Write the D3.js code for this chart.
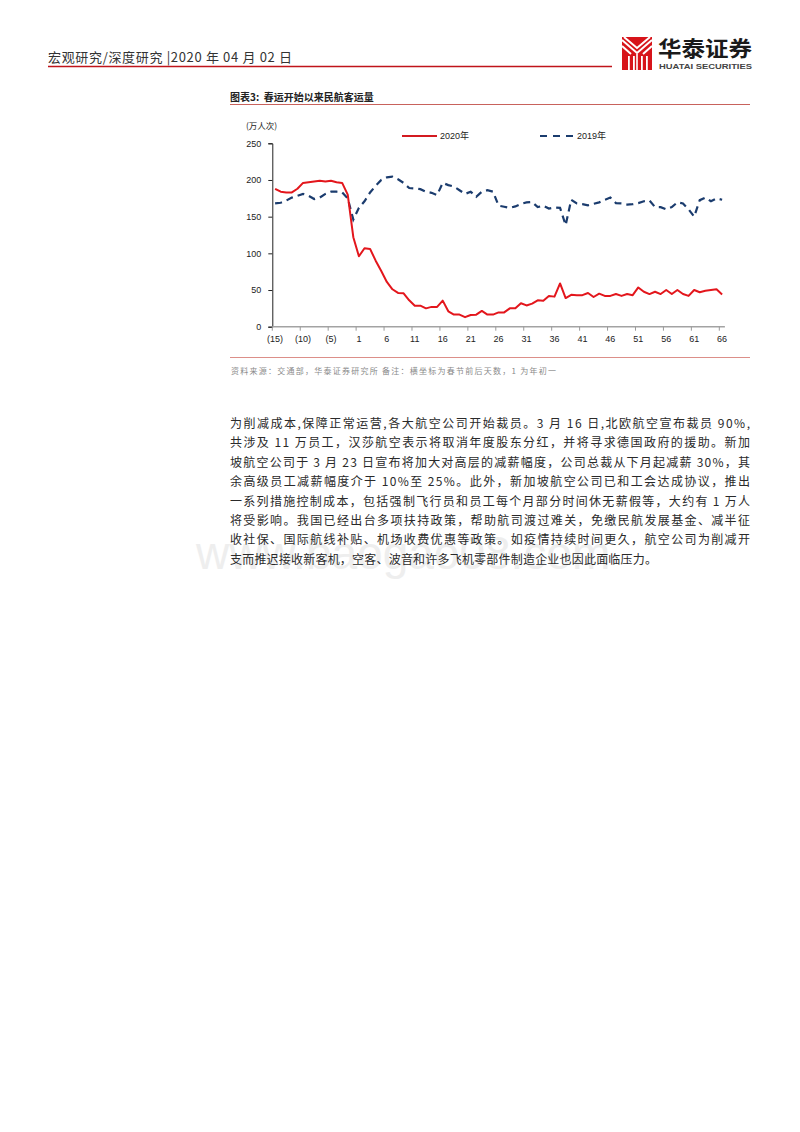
<!DOCTYPE html>
<html>
<head>
<meta charset="utf-8">
<script src="https://cdn.jsdelivr.net/npm/d3@7"></script>
<style>
  html, body { margin: 0; padding: 0; background: #fff; }
  svg { display: block; }
</style>
</head>
<body>
<div id="chart"></div>
<script>
// ---------------- DATA ----------------
const categories = ["(15)","(14)","(13)","(12)","(11)","(10)","(9)","(8)","(7)","(6)","(5)","(4)","(3)","(2)","(1)",
  "1","2","3","4","5","6","7","8","9","10","11","12","13","14","15","16","17","18","19","20",
  "21","22","23","24","25","26","27","28","29","30","31","32","33","34","35","36","37","38","39","40",
  "41","42","43","44","45","46","47","48","49","50","51","52","53","54","55","56","57","58","59","60",
  "61","62","63","64","65","66"];

const tickLabels = ["(15)","(10)","(5)","1","6","11","16","21","26","31","36","41","46","51","56","61","66"];

const series2020 = [188,184,183,183,188,196,197,198,199,198,199,197,196,180,122,
  96,107,106,90,76,61,51,46,45.5,36,28.6,28.6,25,27,27,35.5,21,16.5,16.5,13,
  16,16.4,21.5,16.5,16.5,19.5,19.5,25,25,32,29,31.5,36,35.5,42,41,59,39,43.5,43,
  43,46,40.5,45,42,42,44.5,42,44.5,43,53.5,47.7,44.5,47.7,44.5,50,44.5,50,44.5,42,
  50,47,49,50,51,44];

const series2019 = [168,169,172,176,178.5,181,178.5,174,176,181,184,184,183,175,146,
  162,171,183,192,200,203.5,204.5,201,196,189,188.5,187.5,184,182.5,179.5,196,193,191,186,181,
  184,177,184,186,184,165,163.5,162,164,167.5,169.5,170,163,165,161,162.5,162,138.5,173,168,
  167,165.5,167.5,169.5,173,176,168.5,168,166.5,167,168.5,171,172,163,163,160,163,169.5,168,160,
  150,172.5,176,171,175,173];

const yTicks = [0,50,100,150,200,250];
const seriesNames = ["2020年","2019年"];

const headerText = "宏观研究/深度研究 |2020 年 04 月 02 日";
const chartTitle = "图表3:  春运开始以来民航客运量";
const unitLabel = "(万人次)";
const sourceText = "资料来源：交通部，华泰证券研究所 备注：横坐标为春节前后天数，1 为年初一";
const bodyLines = [
  "为削减成本,保障正常运营,各大航空公司开始裁员。3 月 16 日,北欧航空宣布裁员 90%,",
  "共涉及 11 万员工，汉莎航空表示将取消年度股东分红，并将寻求德国政府的援助。新加",
  "坡航空公司于 3 月 23 日宣布将加大对高层的减薪幅度，公司总裁从下月起减薪 30%，其",
  "余高级员工减薪幅度介于 10%至 25%。此外，新加坡航空公司已和工会达成协议，推出",
  "一系列措施控制成本，包括强制飞行员和员工每个月部分时间休无薪假等，大约有 1 万人",
  "将受影响。我国已经出台多项扶持政策，帮助航司渡过难关，免缴民航发展基金、减半征",
  "收社保、国际航线补贴、机场收费优惠等政策。如疫情持续时间更久，航空公司为削减开",
  "支而推迟接收新客机，空客、波音和许多飞机零部件制造企业也因此面临压力。"
];

// ---------------- LAYOUT ----------------
const W = 800, H = 1132;
const svg = d3.select("#chart").append("svg").attr("width", W).attr("height", H);
svg.append("rect").attr("width", W).attr("height", H).attr("fill", "#fff");

const CJK = "'Noto Sans CJK SC', 'Liberation Sans', sans-serif";
const LAT = "'Liberation Sans', Arial, 'Noto Sans CJK SC', sans-serif";

// watermark
svg.append("text").attr("x", 196).attr("y", 569)
  .attr("font-family", LAT).attr("font-size", 46).attr("fill", "#eeeeee")
  .text("www.baogao08.com");

// header
svg.append("text").attr("x", 48).attr("y", 62)
  .attr("font-family", CJK).attr("font-size", 13).attr("fill", "#333")
  .attr("textLength", 244).attr("lengthAdjust", "spacing")
  .text(headerText);
svg.append("line").attr("x1", 48).attr("x2", 612).attr("y1", 66.5).attr("y2", 66.5)
  .attr("stroke", "#c0141b").attr("stroke-width", 1.5);

// logo icon
const logo = svg.append("g");
logo.append("rect").attr("x", 622).attr("y", 37).attr("width", 30).attr("height", 33).attr("fill", "#d7141a");
logo.append("path").attr("d", "M622,40 L637,53 L652,40 M624,37 L637,48 L650,37 M622,46 L631,54 M652,46 L643,54")
  .attr("stroke", "#fff").attr("stroke-width", 2).attr("fill", "none");
[628, 633, 641, 646].forEach(x => {
  logo.append("rect").attr("x", x).attr("y", 56).attr("width", 1.8).attr("height", 14).attr("fill", "#fff");
});
logo.append("rect").attr("x", 636.2).attr("y", 54).attr("width", 1.6).attr("height", 16).attr("fill", "#fff");
svg.append("text").attr("x", 658).attr("y", 55.5)
  .attr("font-family", CJK).attr("font-weight", "bold").attr("font-size", 21).attr("fill", "#1a1a1a")
  .attr("textLength", 94).attr("lengthAdjust", "spacingAndGlyphs")
  .text("华泰证券");
svg.append("text").attr("x", 659).attr("y", 69)
  .attr("font-family", LAT).attr("font-weight", "bold").attr("font-size", 7).attr("fill", "#444")
  .attr("textLength", 93).attr("lengthAdjust", "spacingAndGlyphs")
  .text("HUATAI SECURITIES");

// chart title
svg.append("text").attr("x", 230).attr("y", 101)
  .attr("font-family", CJK).attr("font-weight", "bold").attr("font-size", 10).attr("fill", "#222")
  .attr("xml:space", "preserve")
  .text(chartTitle);
svg.append("line").attr("x1", 230).attr("x2", 750).attr("y1", 104.5).attr("y2", 104.5)
  .attr("stroke", "#c8625c").attr("stroke-width", 1);
svg.append("line").attr("x1", 230).attr("x2", 750).attr("y1", 357.5).attr("y2", 357.5)
  .attr("stroke", "#dc8f89").attr("stroke-width", 1);

// ---------------- CHART ----------------
const x0 = 272.3, x1 = 724.9, yTop = 143.3, yBot = 326.7;
const x = d3.scaleBand().domain(categories).range([x0, x1]).padding(0);
const cx = d => x(d) + x.bandwidth() / 2;
const y = d3.scaleLinear().domain([0, 250]).range([yBot, yTop]);

const g = svg.append("g");

// y axis
const yAxis = d3.axisLeft(y).tickValues(yTicks).tickSize(4).tickPadding(7);
const yg = g.append("g").attr("transform", `translate(${x0},0)`).call(yAxis);
yg.select(".domain").attr("stroke", "#222").attr("stroke-width", 1);
yg.selectAll(".tick line").attr("stroke", "#222");
yg.selectAll(".tick text").attr("font-family", LAT).attr("font-size", 9).attr("fill", "#222");

// x axis
g.append("line").attr("x1", x0).attr("x2", x1).attr("y1", yBot).attr("y2", yBot)
  .attr("stroke", "#a3a3a3").attr("stroke-width", 1.6);
g.selectAll(".xtick").data(tickLabels).enter().append("line")
  .attr("x1", d => x(d)).attr("x2", d => x(d))
  .attr("y1", yBot).attr("y2", yBot + 4)
  .attr("stroke", "#999").attr("stroke-width", 1);
g.selectAll(".xlab").data(tickLabels).enter().append("text")
  .attr("x", d => cx(d)).attr("y", yBot + 15)
  .attr("text-anchor", "middle")
  .attr("font-family", LAT).attr("font-size", 9).attr("fill", "#222")
  .text(d => d);

// unit label
g.append("text").attr("x", 246).attr("y", 129)
  .attr("font-family", CJK).attr("font-size", 8.5).attr("fill", "#222")
  .text(unitLabel);

// lines
const lineGen = d3.line().x((d, i) => cx(categories[i])).y(d => y(d));
g.append("path").datum(series2019).attr("d", lineGen)
  .attr("fill", "none").attr("stroke", "#1b3c6e").attr("stroke-width", 2.2)
  .attr("stroke-dasharray", "7,5");
g.append("path").datum(series2020).attr("d", lineGen)
  .attr("fill", "none").attr("stroke", "#e3161c").attr("stroke-width", 2)
  .attr("stroke-linejoin", "round");

// legend
const leg = [
  {name: seriesNames[0], x1: 402, x2: 437, color: "#d31a20", dash: null, tx: 440},
  {name: seriesNames[1], x1: 540, x2: 574, color: "#1b3c6e", dash: "7,6", tx: 577}
];
leg.forEach(l => {
  g.append("line").attr("x1", l.x1).attr("x2", l.x2).attr("y1", 136).attr("y2", 136)
    .attr("stroke", l.color).attr("stroke-width", 2.2).attr("stroke-dasharray", l.dash);
  g.append("text").attr("x", l.tx).attr("y", 139.3)
    .attr("font-family", LAT).attr("font-size", 9).attr("fill", "#222").text(l.name);
});

// source
svg.append("text").attr("x", 231).attr("y", 374)
  .attr("font-family", CJK).attr("font-size", 8).attr("fill", "#8a8a8a")
  .attr("textLength", 325).attr("lengthAdjust", "spacing")
  .text(sourceText);

// body
bodyLines.forEach((t, i) => {
  const el = svg.append("text").attr("x", 230).attr("y", 428 + i * 19.4)
    .attr("font-family", CJK).attr("font-size", 12).attr("fill", "#2a2a2a")
    .attr("xml:space", "preserve").text(t);
  el.attr("textLength", i < bodyLines.length - 1 ? 520 : 427).attr("lengthAdjust", "spacing");
});
</script>
</body>
</html>
